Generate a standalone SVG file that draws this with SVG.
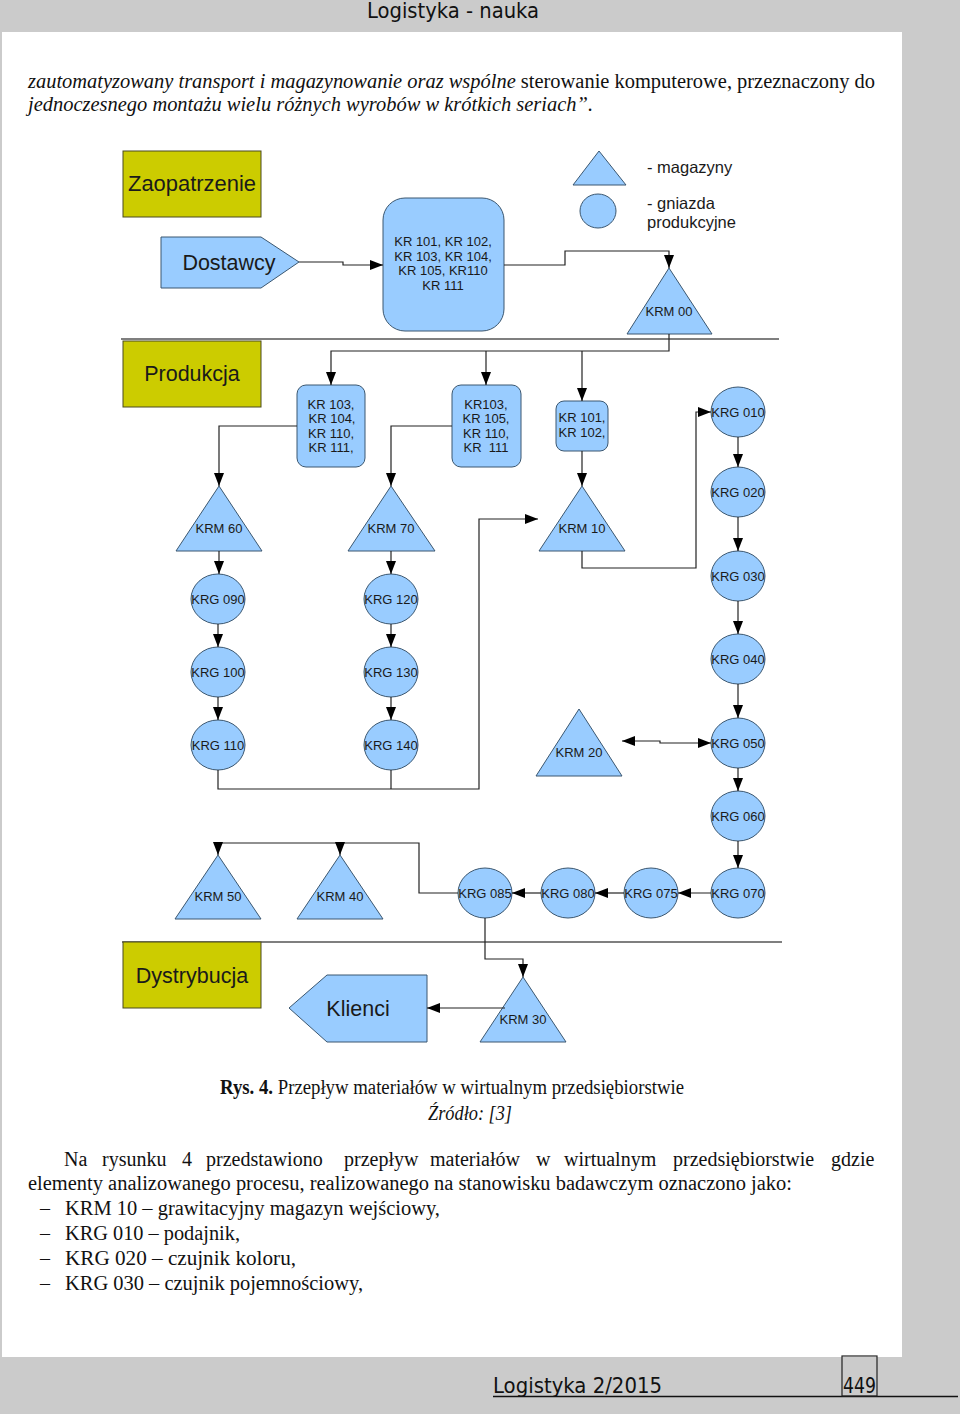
<svg xmlns="http://www.w3.org/2000/svg" width="960" height="1414" viewBox="0 0 960 1414">
<style>
.bg{fill:#cbcbcb}
.page{fill:#ffffff}
.yel{fill:#cccc00;stroke:#4a4a20;stroke-width:1}
.blu{fill:#99ccff;stroke:#3b5770;stroke-width:1}
.lbl{font-family:"Liberation Sans",Arial,sans-serif;fill:#1a1a1a;text-anchor:middle}
.big{font-size:21.5px}
.sm{font-size:13px}
.leg{font-family:"Liberation Sans",Arial,sans-serif;font-size:16.5px;fill:#1a1a1a}
.con{fill:none;stroke:#222;stroke-width:1.2}
.sep{stroke:#555;stroke-width:1.3}
.serif{font-family:"Liberation Serif","Times New Roman",serif;fill:#111;font-size:20px}
.hdr{font-family:"DejaVu Sans Condensed","DejaVu Sans",sans-serif;fill:#111;font-size:21px}
</style>
<defs>
<marker id="ah" viewBox="0 0 13 10" refX="13" refY="5" markerWidth="13" markerHeight="10" markerUnits="userSpaceOnUse" orient="auto-start-reverse">
<path d="M0,0 L13,5 L0,10 z" fill="#000"/>
</marker>
</defs>
<rect class="bg" x="0" y="0" width="960" height="1414"/>
<rect class="page" x="2" y="32" width="900" height="1325"/>
<text class="hdr" x="367" y="18" textLength="172" lengthAdjust="spacingAndGlyphs">Logistyka - nauka</text>

<text class="serif" x="28" y="88" textLength="847" lengthAdjust="spacingAndGlyphs"><tspan font-style="italic">zautomatyzowany transport i magazynowanie oraz wspólne</tspan> sterowanie komputerowe, przeznaczony do</text>
<text class="serif" x="28" y="111" font-style="italic" textLength="565" lengthAdjust="spacingAndGlyphs">jednoczesnego montażu wielu różnych wyrobów w krótkich seriach”.</text>

<line class="sep" x1="121" y1="339" x2="779" y2="339"/>
<line class="sep" x1="122" y1="942" x2="782" y2="942"/>

<g id="zaopatrzenie"><rect class="yel" x="123" y="151" width="138" height="66"/><text class="lbl big" x="192" y="191" textLength="128" lengthAdjust="spacingAndGlyphs">Zaopatrzenie</text></g>
<g id="produkcja"><rect class="yel" x="123" y="341" width="138" height="66"/><text class="lbl big" x="192" y="381">Produkcja</text></g>
<g id="dystrybucja"><rect class="yel" x="123" y="942" width="138" height="66"/><text class="lbl big" x="192" y="983">Dystrybucja</text></g>

<g id="legend">
<polygon class="blu" points="599,151 626,185 573,185"/>
<ellipse class="blu" cx="598" cy="211" rx="18" ry="17"/>
<text class="leg" x="647" y="173">- magazyny</text>
<text class="leg" x="647" y="209">- gniazda</text>
<text class="leg" x="647" y="228">produkcyjne</text>
</g>

<g id="dostawcy"><polygon class="blu" points="161,237 261,237 299,262 261,288 161,288"/><text class="lbl big" x="229" y="270">Dostawcy</text></g>
<g id="kr-all"><rect class="blu" x="383" y="198" width="121" height="133" rx="22"/>
<text class="lbl sm" x="443" y="246">KR 101, KR 102,</text>
<text class="lbl sm" x="443" y="261">KR 103, KR 104,</text>
<text class="lbl sm" x="443" y="275">KR 105, KR110</text>
<text class="lbl sm" x="443" y="290">KR 111</text></g>
<g id="krm00"><polygon class="blu" points="669,268 712,334 627,334"/><text class="lbl sm" x="669" y="316">KRM 00</text></g>

<g id="kr-box1"><rect class="blu" x="297" y="385" width="68" height="82" rx="9"/>
<text class="lbl sm" x="331" y="409">KR 103,</text><text class="lbl sm" x="332" y="423">KR 104,</text><text class="lbl sm" x="331" y="438">KR 110,</text><text class="lbl sm" x="331" y="452">KR 111,</text></g>
<g id="kr-box2"><rect class="blu" x="452" y="385" width="69" height="82" rx="9"/>
<text class="lbl sm" x="486" y="409">KR103,</text><text class="lbl sm" x="486" y="423">KR 105,</text><text class="lbl sm" x="486" y="438">KR 110,</text><text class="lbl sm" x="486" y="452" xml:space="preserve">KR  111</text></g>
<g id="kr-box3"><rect class="blu" x="556" y="401" width="52" height="50" rx="8"/>
<text class="lbl sm" x="582" y="422">KR 101,</text><text class="lbl sm" x="582" y="437">KR 102,</text></g>

<g id="krm60"><polygon class="blu" points="219,486 262,551 176,551"/><text class="lbl sm" x="219" y="533">KRM 60</text></g>
<g id="krm70"><polygon class="blu" points="391,486 435,551 348,551"/><text class="lbl sm" x="391" y="533">KRM 70</text></g>
<g id="krm10"><polygon class="blu" points="582,486 625,551 539,551"/><text class="lbl sm" x="582" y="533">KRM 10</text></g>
<g id="krm20"><polygon class="blu" points="579,709 622,776 536,776"/><text class="lbl sm" x="579" y="757">KRM 20</text></g>
<g id="krm50"><polygon class="blu" points="218,855 261,919 175,919"/><text class="lbl sm" x="218" y="901">KRM 50</text></g>
<g id="krm40"><polygon class="blu" points="340,855 383,919 297,919"/><text class="lbl sm" x="340" y="901">KRM 40</text></g>
<g id="krm30"><polygon class="blu" points="523,977 566,1042 480,1042"/><text class="lbl sm" x="523" y="1024">KRM 30</text></g>

<g id="krg090"><ellipse class="blu" cx="218" cy="599" rx="27" ry="25"/><text class="lbl sm" x="218" y="604">KRG 090</text></g>
<g id="krg100"><ellipse class="blu" cx="218" cy="672" rx="27" ry="25"/><text class="lbl sm" x="218" y="677">KRG 100</text></g>
<g id="krg110"><ellipse class="blu" cx="218" cy="745" rx="27" ry="25"/><text class="lbl sm" x="218" y="750">KRG 110</text></g>
<g id="krg120"><ellipse class="blu" cx="391" cy="599" rx="27" ry="25"/><text class="lbl sm" x="391" y="604">KRG 120</text></g>
<g id="krg130"><ellipse class="blu" cx="391" cy="672" rx="27" ry="25"/><text class="lbl sm" x="391" y="677">KRG 130</text></g>
<g id="krg140"><ellipse class="blu" cx="391" cy="745" rx="27" ry="25"/><text class="lbl sm" x="391" y="750">KRG 140</text></g>

<g id="krg010"><ellipse class="blu" cx="738" cy="412" rx="27" ry="25"/><text class="lbl sm" x="738" y="417">KRG 010</text></g>
<g id="krg020"><ellipse class="blu" cx="738" cy="492" rx="27" ry="25"/><text class="lbl sm" x="738" y="497">KRG 020</text></g>
<g id="krg030"><ellipse class="blu" cx="738" cy="576" rx="27" ry="25"/><text class="lbl sm" x="738" y="581">KRG 030</text></g>
<g id="krg040"><ellipse class="blu" cx="738" cy="659" rx="27" ry="25"/><text class="lbl sm" x="738" y="664">KRG 040</text></g>
<g id="krg050"><ellipse class="blu" cx="738" cy="743" rx="27" ry="25"/><text class="lbl sm" x="738" y="748">KRG 050</text></g>
<g id="krg060"><ellipse class="blu" cx="738" cy="816" rx="27" ry="25"/><text class="lbl sm" x="738" y="821">KRG 060</text></g>
<g id="krg070"><ellipse class="blu" cx="738" cy="893" rx="27" ry="25"/><text class="lbl sm" x="738" y="898">KRG 070</text></g>
<g id="krg075"><ellipse class="blu" cx="651" cy="893" rx="27" ry="25"/><text class="lbl sm" x="651" y="898">KRG 075</text></g>
<g id="krg080"><ellipse class="blu" cx="568" cy="893" rx="27" ry="25"/><text class="lbl sm" x="568" y="898">KRG 080</text></g>
<g id="krg085"><ellipse class="blu" cx="485" cy="893" rx="27" ry="25"/><text class="lbl sm" x="485" y="898">KRG 085</text></g>

<g id="klienci"><polygon class="blu" points="289,1008 327,975 427,975 427,1042 327,1042"/><text class="lbl big" x="358" y="1016">Klienci</text></g>

<g id="connectors">
<path class="con" d="M299,262 H343 V265 H383" marker-end="url(#ah)"/>
<path class="con" d="M504,265 H565 V251 H669 V268" marker-end="url(#ah)"/>
<path class="con" d="M669,334 V351 H331 V385" marker-end="url(#ah)"/>
<path class="con" d="M486,351 V385" marker-end="url(#ah)"/>
<path class="con" d="M582,351 V401" marker-end="url(#ah)"/>
<path class="con" d="M297,426 H219 V486" marker-end="url(#ah)"/>
<path class="con" d="M452,426 H391 V486" marker-end="url(#ah)"/>
<path class="con" d="M582,451 V486" marker-end="url(#ah)"/>
<path class="con" d="M219,551 V574" marker-end="url(#ah)"/>
<path class="con" d="M218,624 V647" marker-end="url(#ah)"/>
<path class="con" d="M218,697 V720" marker-end="url(#ah)"/>
<path class="con" d="M391,551 V574" marker-end="url(#ah)"/>
<path class="con" d="M391,624 V647" marker-end="url(#ah)"/>
<path class="con" d="M391,697 V720" marker-end="url(#ah)"/>
<path class="con" d="M218,770 V789 H479 V519 H538" marker-end="url(#ah)"/>
<path class="con" d="M391,770 V789"/>
<path class="con" d="M582,551 V568 H696 V412 H711" marker-end="url(#ah)"/>
<path class="con" d="M738,437 V467" marker-end="url(#ah)"/>
<path class="con" d="M738,517 V551" marker-end="url(#ah)"/>
<path class="con" d="M738,601 V634" marker-end="url(#ah)"/>
<path class="con" d="M738,684 V718" marker-end="url(#ah)"/>
<path class="con" d="M738,768 V791" marker-end="url(#ah)"/>
<path class="con" d="M738,841 V868" marker-end="url(#ah)"/>
<path class="con" d="M622,741 H660 V743 H711" marker-start="url(#ah)" marker-end="url(#ah)"/>
<path class="con" d="M711,893 H678" marker-end="url(#ah)"/>
<path class="con" d="M624,893 H595" marker-end="url(#ah)"/>
<path class="con" d="M541,893 H512" marker-end="url(#ah)"/>
<path class="con" d="M458,893 H419 V843 H218 V855" marker-end="url(#ah)"/>
<path class="con" d="M340,843 V855" marker-end="url(#ah)"/>
<path class="con" d="M485,918 V959 H523 V977" marker-end="url(#ah)"/>
<path class="con" d="M505,1008 H427" marker-end="url(#ah)"/>
</g>

<text class="serif" x="220" y="1094" font-size="18" textLength="464" lengthAdjust="spacingAndGlyphs"><tspan font-weight="bold">Rys. 4.</tspan> Przepływ materiałów w wirtualnym przedsiębiorstwie</text>
<text class="serif" x="428" y="1120" font-size="18" font-style="italic" textLength="84" lengthAdjust="spacingAndGlyphs">Źródło: [3]</text>

<text class="serif" y="1166"><tspan x="64">Na</tspan><tspan x="102">rysunku</tspan><tspan x="182">4</tspan><tspan x="206">przedstawiono</tspan><tspan x="344">przepływ</tspan><tspan x="430">materiałów</tspan><tspan x="536">w</tspan><tspan x="564">wirtualnym</tspan><tspan x="673">przedsiębiorstwie</tspan><tspan x="831">gdzie</tspan></text>
<text class="serif" x="28" y="1190" textLength="764" lengthAdjust="spacingAndGlyphs">elementy analizowanego procesu, realizowanego na stanowisku badawczym oznaczono jako:</text>
<text class="serif" x="40" y="1215">–</text><text class="serif" x="65" y="1215" textLength="375" lengthAdjust="spacingAndGlyphs">KRM 10 – grawitacyjny magazyn wejściowy,</text>
<text class="serif" x="40" y="1240">–</text><text class="serif" x="65" y="1240" textLength="175" lengthAdjust="spacingAndGlyphs">KRG 010 – podajnik,</text>
<text class="serif" x="40" y="1265">–</text><text class="serif" x="65" y="1265" textLength="231" lengthAdjust="spacingAndGlyphs">KRG 020 – czujnik koloru,</text>
<text class="serif" x="40" y="1290">–</text><text class="serif" x="65" y="1290" textLength="298" lengthAdjust="spacingAndGlyphs">KRG 030 – czujnik pojemnościowy,</text>

<text class="hdr" x="493" y="1393" textLength="169" lengthAdjust="spacingAndGlyphs">Logistyka 2/2015</text>
<line x1="493" y1="1396.5" x2="958" y2="1396.5" stroke="#111" stroke-width="1.3"/>
<rect x="842" y="1356" width="35" height="40" fill="none" stroke="#222" stroke-width="1.2"/>
<text class="hdr" x="843" y="1393" textLength="33" lengthAdjust="spacingAndGlyphs">449</text>
</svg>
